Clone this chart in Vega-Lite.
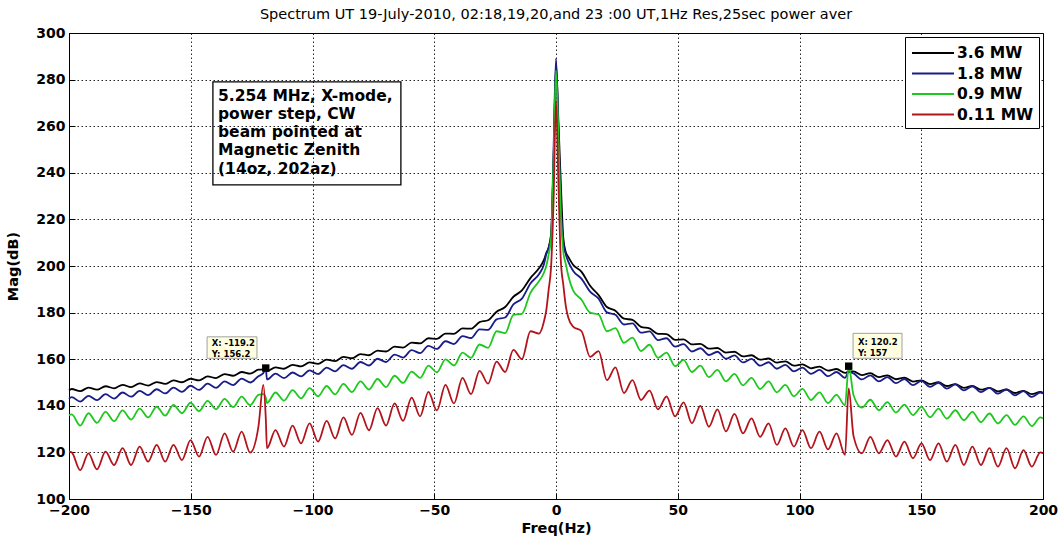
{
  "$schema": "https://vega.github.io/schema/vega-lite/v6.json",
  "width": 974,
  "height": 466,
  "autosize": {"type": "none"},
  "padding": {"left": 69, "top": 33, "right": 19, "bottom": 40},
  "background": "white",
  "config": {
    "font": "DejaVu Sans",
    "view": {"stroke": "black", "strokeWidth": 1},
    "axis": {
      "grid": true,
      "gridColor": "black",
      "gridDash": [1.5, 2.5],
      "gridOpacity": 0.85,
      "gridWidth": 1,
      "domainColor": "black",
      "tickColor": "black",
      "tickSize": -6,
      "labelFont": "DejaVu Sans",
      "labelFontSize": 14,
      "labelFontWeight": "bold",
      "labelColor": "black",
      "labelOverlap": false,
      "labelFlush": false,
      "labelBound": false,
      "titleFont": "DejaVu Sans",
      "titleFontSize": 14.5,
      "titleFontWeight": "bold",
      "titleColor": "black"
    }
  },
  "title": {
    "text": "Spectrum UT 19-July-2010, 02:18,19,20,and 23 :00 UT,1Hz Res,25sec power aver",
    "font": "DejaVu Sans",
    "fontSize": 14.5,
    "fontWeight": "normal",
    "color": "black",
    "anchor": "middle",
    "baseline": "alphabetic",
    "offset": -7
  },
  "layer": [
    {
      "data": {"values": [{}]},
      "mark": {"type": "rect", "fill": "white", "fillOpacity": 0, "stroke": "black", "strokeWidth": 1.3},
      "encoding": {
        "x": {"datum": -140.9, "type": "quantitative"},
        "x2": {"datum": -63.7},
        "y": {"datum": 279, "type": "quantitative"},
        "y2": {"datum": 234.8}
      }
    },
    {
      "data": {"values": [
        {"f": -200, "k": 146.6, "b": 143.0, "g": 136.0, "r": 120.3},
        {"f": -198.9, "k": 147.2, "b": 143.7, "g": 136.3, "r": 120.0},
        {"f": -195.4, "k": 146.3, "b": 141.8, "g": 131.5, "r": 112.4},
        {"f": -192.0, "k": 147.8, "b": 144.3, "g": 136.8, "r": 119.6},
        {"f": -188.5, "k": 146.9, "b": 142.4, "g": 132.7, "r": 112.7},
        {"f": -185.0, "k": 148.4, "b": 145.0, "g": 137.4, "r": 120.3},
        {"f": -181.5, "k": 147.5, "b": 143.1, "g": 133.4, "r": 114.6},
        {"f": -178.0, "k": 149.0, "b": 145.7, "g": 138.0, "r": 121.8},
        {"f": -174.5, "k": 148.0, "b": 143.9, "g": 134.1, "r": 114.6},
        {"f": -171.0, "k": 149.6, "b": 146.4, "g": 138.8, "r": 122.5},
        {"f": -167.5, "k": 148.7, "b": 144.6, "g": 135.0, "r": 116.0},
        {"f": -164.0, "k": 150.2, "b": 147.1, "g": 139.6, "r": 123.2},
        {"f": -160.5, "k": 149.4, "b": 145.3, "g": 135.8, "r": 116.0},
        {"f": -157.1, "k": 150.9, "b": 147.8, "g": 140.4, "r": 123.2},
        {"f": -153.6, "k": 150.1, "b": 146.0, "g": 136.8, "r": 116.7},
        {"f": -150.1, "k": 151.6, "b": 148.6, "g": 141.3, "r": 125.3},
        {"f": -146.6, "k": 150.9, "b": 146.8, "g": 137.7, "r": 118.2},
        {"f": -143.1, "k": 152.6, "b": 149.5, "g": 142.1, "r": 126.7},
        {"f": -139.6, "k": 151.9, "b": 147.7, "g": 138.5, "r": 118.9},
        {"f": -136.1, "k": 153.6, "b": 150.5, "g": 143.0, "r": 128.2},
        {"f": -132.6, "k": 152.9, "b": 148.9, "g": 139.4, "r": 120.3},
        {"f": -129.1, "k": 154.5, "b": 151.7, "g": 143.9, "r": 128.9},
        {"f": -125.6, "k": 153.8, "b": 150.0, "g": 140.3, "r": 119.9},
        {"f": -122.2, "k": 155.5, "b": 152.7, "g": 144.7, "r": 131.1},
        {"f": -120.2, "k": 155.6, "b": 154.0, "g": 145.0, "r": 149.0},
        {"f": -119.2, "k": 156.0, "b": 156.2, "g": 143.5, "r": 135.0},
        {"f": -118.7, "k": 154.8, "b": 151.3, "g": 141.2, "r": 121.8},
        {"f": -115.2, "k": 156.5, "b": 153.8, "g": 145.7, "r": 129.6},
        {"f": -111.7, "k": 155.9, "b": 151.9, "g": 142.2, "r": 122.5},
        {"f": -108.2, "k": 157.6, "b": 154.3, "g": 146.7, "r": 131.5},
        {"f": -104.7, "k": 156.9, "b": 152.6, "g": 143.2, "r": 123.9},
        {"f": -101.2, "k": 158.6, "b": 155.2, "g": 147.6, "r": 132.5},
        {"f": -97.7, "k": 158.0, "b": 153.6, "g": 144.1, "r": 124.6},
        {"f": -94.2, "k": 159.8, "b": 156.4, "g": 148.5, "r": 133.5},
        {"f": -90.7, "k": 159.2, "b": 154.8, "g": 144.9, "r": 126.0},
        {"f": -87.3, "k": 161.0, "b": 157.5, "g": 149.4, "r": 135.0},
        {"f": -83.8, "k": 160.4, "b": 155.9, "g": 145.9, "r": 127.5},
        {"f": -80.3, "k": 162.2, "b": 158.8, "g": 150.5, "r": 137.0},
        {"f": -76.8, "k": 161.7, "b": 157.3, "g": 147.0, "r": 129.5},
        {"f": -73.3, "k": 163.7, "b": 160.2, "g": 151.5, "r": 139.0},
        {"f": -69.8, "k": 163.3, "b": 158.8, "g": 148.0, "r": 131.5},
        {"f": -66.3, "k": 165.4, "b": 162.0, "g": 152.9, "r": 141.0},
        {"f": -62.8, "k": 165.0, "b": 160.7, "g": 149.8, "r": 133.5},
        {"f": -59.3, "k": 167.1, "b": 163.9, "g": 154.7, "r": 143.5},
        {"f": -55.8, "k": 166.8, "b": 162.6, "g": 152.0, "r": 135.5},
        {"f": -52.4, "k": 169.0, "b": 165.7, "g": 157.2, "r": 146.0},
        {"f": -48.9, "k": 168.7, "b": 164.4, "g": 154.4, "r": 138.0},
        {"f": -45.4, "k": 171.0, "b": 167.7, "g": 159.9, "r": 149.0},
        {"f": -41.9, "k": 170.9, "b": 166.5, "g": 157.3, "r": 141.0},
        {"f": -38.4, "k": 173.2, "b": 169.9, "g": 162.8, "r": 152.0},
        {"f": -34.9, "k": 173.1, "b": 169.1, "g": 160.6, "r": 145.0},
        {"f": -31.4, "k": 175.9, "b": 172.8, "g": 166.3, "r": 155.0},
        {"f": -27.9, "k": 176.7, "b": 172.6, "g": 164.9, "r": 149.5},
        {"f": -24.4, "k": 180.4, "b": 177.1, "g": 172.0, "r": 159.0},
        {"f": -20.9, "k": 182.4, "b": 177.9, "g": 171.2, "r": 154.5},
        {"f": -17.5, "k": 186.8, "b": 183.5, "g": 179.0, "r": 164.0},
        {"f": -14.0, "k": 189.5, "b": 186.0, "g": 179.5, "r": 160.0},
        {"f": -10.5, "k": 194.8, "b": 192.5, "g": 188.5, "r": 172.0},
        {"f": -7.0, "k": 199.0, "b": 196.5, "g": 193.5, "r": 171.0},
        {"f": -5, "k": 202.5, "b": 200.5, "g": 197.0, "r": 176.0},
        {"f": -4, "k": 205.5, "b": 205.0, "g": 200.0, "r": 181.0},
        {"f": -3, "k": 208.0, "b": 208.0, "g": 205.0, "r": 190.0},
        {"f": -2, "k": 214.0, "b": 213.0, "g": 212.0, "r": 200.0},
        {"f": -1, "k": 245.0, "b": 250.0, "g": 245.0, "r": 228.0},
        {"f": 0, "k": 287.0, "b": 289.0, "g": 284.0, "r": 271.0},
        {"f": 1, "k": 262.0, "b": 258.0, "g": 255.0, "r": 235.0},
        {"f": 2, "k": 235.0, "b": 225.0, "g": 222.0, "r": 202.0},
        {"f": 3, "k": 212.0, "b": 210.0, "g": 206.0, "r": 192.0},
        {"f": 4, "k": 206.0, "b": 205.0, "g": 201.0, "r": 183.0},
        {"f": 5, "k": 204.0, "b": 202.0, "g": 196.0, "r": 178.0},
        {"f": 7.0, "k": 200.5, "b": 198.0, "g": 189.5, "r": 174.0},
        {"f": 10.5, "k": 197.5, "b": 194.5, "g": 185.5, "r": 172.0},
        {"f": 14.0, "k": 191.5, "b": 189.0, "g": 180.0, "r": 161.0},
        {"f": 17.5, "k": 187.5, "b": 186.0, "g": 179.2, "r": 163.5},
        {"f": 20.9, "k": 182.4, "b": 180.1, "g": 172.0, "r": 151.0},
        {"f": 24.4, "k": 180.8, "b": 179.1, "g": 173.3, "r": 156.5},
        {"f": 27.9, "k": 177.4, "b": 174.9, "g": 167.0, "r": 145.5},
        {"f": 31.4, "k": 176.9, "b": 175.4, "g": 169.3, "r": 151.0},
        {"f": 34.9, "k": 173.9, "b": 171.4, "g": 163.5, "r": 142.5},
        {"f": 38.4, "k": 173.2, "b": 171.9, "g": 166.2, "r": 146.5},
        {"f": 41.9, "k": 170.9, "b": 168.2, "g": 160.6, "r": 138.5},
        {"f": 45.4, "k": 170.8, "b": 169.0, "g": 162.8, "r": 144.0},
        {"f": 48.9, "k": 168.3, "b": 165.4, "g": 157.0, "r": 135.5},
        {"f": 52.4, "k": 168.5, "b": 166.5, "g": 159.7, "r": 141.5},
        {"f": 55.8, "k": 166.4, "b": 163.3, "g": 154.5, "r": 132.5},
        {"f": 59.3, "k": 166.6, "b": 164.7, "g": 157.2, "r": 140.0},
        {"f": 62.8, "k": 164.5, "b": 161.8, "g": 152.3, "r": 131.0},
        {"f": 66.3, "k": 164.8, "b": 163.2, "g": 155.4, "r": 138.5},
        {"f": 69.8, "k": 162.8, "b": 160.2, "g": 150.5, "r": 129.0},
        {"f": 73.3, "k": 163.2, "b": 161.6, "g": 153.7, "r": 136.5},
        {"f": 76.8, "k": 161.2, "b": 158.6, "g": 148.8, "r": 128.2},
        {"f": 80.3, "k": 161.7, "b": 160.1, "g": 152.0, "r": 134.6},
        {"f": 83.8, "k": 159.8, "b": 157.2, "g": 147.2, "r": 126.7},
        {"f": 87.3, "k": 160.3, "b": 158.7, "g": 150.5, "r": 132.5},
        {"f": 90.7, "k": 158.5, "b": 155.9, "g": 145.8, "r": 123.2},
        {"f": 94.2, "k": 159.1, "b": 157.6, "g": 149.0, "r": 130.3},
        {"f": 97.7, "k": 157.2, "b": 154.8, "g": 144.1, "r": 122.5},
        {"f": 101.2, "k": 157.8, "b": 156.4, "g": 147.3, "r": 129.6},
        {"f": 104.7, "k": 156.1, "b": 153.7, "g": 142.5, "r": 121.8},
        {"f": 108.2, "k": 156.8, "b": 155.4, "g": 145.8, "r": 128.9},
        {"f": 111.7, "k": 155.1, "b": 152.7, "g": 141.2, "r": 121.3},
        {"f": 115.2, "k": 155.8, "b": 154.5, "g": 144.7, "r": 128.2},
        {"f": 118.7, "k": 154.1, "b": 152.0, "g": 140.2, "r": 118.9},
        {"f": 120.2, "k": 154.8, "b": 154.5, "g": 157.0, "r": 147.5},
        {"f": 122.2, "k": 154.8, "b": 153.9, "g": 144.5, "r": 127.0},
        {"f": 125.6, "k": 153.2, "b": 151.3, "g": 139.2, "r": 119.6},
        {"f": 129.1, "k": 154.0, "b": 153.1, "g": 142.6, "r": 126.7},
        {"f": 132.6, "k": 152.3, "b": 150.5, "g": 138.1, "r": 119.6},
        {"f": 136.1, "k": 153.1, "b": 152.3, "g": 141.6, "r": 125.3},
        {"f": 139.6, "k": 151.4, "b": 149.7, "g": 137.1, "r": 118.2},
        {"f": 143.1, "k": 152.1, "b": 151.5, "g": 140.5, "r": 124.6},
        {"f": 146.6, "k": 150.4, "b": 148.9, "g": 136.0, "r": 117.5},
        {"f": 150.1, "k": 150.9, "b": 150.7, "g": 139.5, "r": 123.9},
        {"f": 153.6, "k": 149.3, "b": 148.1, "g": 135.1, "r": 116.7},
        {"f": 157.1, "k": 150.1, "b": 149.9, "g": 138.8, "r": 123.9},
        {"f": 160.5, "k": 148.5, "b": 147.4, "g": 134.5, "r": 116.0},
        {"f": 164.0, "k": 149.3, "b": 149.2, "g": 138.1, "r": 123.2},
        {"f": 167.5, "k": 147.7, "b": 146.6, "g": 133.8, "r": 114.6},
        {"f": 171.0, "k": 148.5, "b": 148.4, "g": 137.4, "r": 122.5},
        {"f": 174.5, "k": 146.9, "b": 145.9, "g": 133.0, "r": 114.6},
        {"f": 178.0, "k": 147.7, "b": 147.7, "g": 136.7, "r": 121.8},
        {"f": 181.5, "k": 146.2, "b": 145.2, "g": 132.4, "r": 113.9},
        {"f": 185.0, "k": 147.0, "b": 147.0, "g": 136.0, "r": 121.8},
        {"f": 188.5, "k": 145.5, "b": 144.5, "g": 131.8, "r": 113.2},
        {"f": 192.0, "k": 146.4, "b": 146.3, "g": 135.5, "r": 121.0},
        {"f": 195.4, "k": 145.0, "b": 143.8, "g": 131.3, "r": 113.9},
        {"f": 198.9, "k": 146.0, "b": 145.7, "g": 135.0, "r": 120.0},
        {"f": 200, "k": 145.6, "b": 145.3, "g": 134.5, "r": 119.6}
      ]},
      "transform": [{"fold": ["k", "b", "g", "r"], "as": ["s", "v"]}],
      "mark": {"type": "line", "interpolate": "monotone"},
      "encoding": {
        "x": {
          "field": "f", "type": "quantitative",
          "scale": {"domain": [-200, 200], "nice": false, "zero": false},
          "axis": {"values": [-200, -150, -100, -50, 0, 50, 100, 150, 200], "labelPadding": 10, "titlePadding": 4},
          "title": "Freq(Hz)"
        },
        "y": {
          "field": "v", "type": "quantitative",
          "scale": {"domain": [100, 300], "nice": false, "zero": false},
          "axis": {"values": [100, 120, 140, 160, 180, 200, 220, 240, 260, 280, 300], "labelPadding": 10, "titlePadding": 15},
          "title": "Mag(dB)"
        },
        "color": {
          "field": "s", "type": "nominal",
          "scale": {"domain": ["k", "b", "g", "r"], "range": ["#000000", "#1a1d88", "#1ec81e", "#b3141c"]},
          "legend": {
            "orient": "top-right",
            "offset": 4,
            "title": null,
            "labelExpr": "{'k':'3.6 MW','b':'1.8 MW','g':'0.9 MW','r':'0.11 MW'}[datum.value]",
            "symbolType": "M-0.9,0H3.3",
            "symbolSize": 400,
            "symbolStrokeWidth": 2,
            "labelFont": "DejaVu Sans",
            "labelFontSize": 15.5,
            "labelFontWeight": "bold",
            "labelColor": "black",
            "labelOffset": 25,
            "strokeColor": "black",
            "fillColor": "white",
            "padding": 5,
            "rowPadding": 0.5,
            "cornerRadius": 0
          }
        },
        "strokeWidth": {
          "field": "s", "type": "nominal",
          "scale": {"domain": ["k", "b", "g", "r"], "range": [1.8, 1.8, 3, 2.8]},
          "legend": null
        }
      }
    },
    {
      "data": {"values": [{"tx": -119.2, "ty": 156.2}, {"tx": 120.2, "ty": 157}]},
      "mark": {"type": "point", "shape": "square", "filled": true, "color": "black", "size": 55, "opacity": 1},
      "encoding": {
        "x": {"field": "tx", "type": "quantitative"},
        "y": {"field": "ty", "type": "quantitative"}
      }
    },
    {
      "data": {"values": [{}]},
      "mark": {"type": "rect", "fill": "#ffffe0", "stroke": "#a0a0a0", "strokeWidth": 1},
      "encoding": {
        "x": {"datum": -143.3, "type": "quantitative"},
        "x2": {"datum": -122.8},
        "y": {"datum": 169.6, "type": "quantitative"},
        "y2": {"datum": 160.4}
      }
    },
    {
      "data": {"values": [{}]},
      "mark": {"type": "rect", "fill": "#ffffe0", "stroke": "#a0a0a0", "strokeWidth": 1},
      "encoding": {
        "x": {"datum": 122.0, "type": "quantitative"},
        "x2": {"datum": 142.1},
        "y": {"datum": 171.1, "type": "quantitative"},
        "y2": {"datum": 160.4}
      }
    },
    {
      "data": {"values": [{}]},
      "mark": {"type": "text", "align": "left", "baseline": "alphabetic", "font": "DejaVu Sans", "fontSize": 8.5, "fontWeight": "bold", "color": "black", "lineHeight": 10.7, "text": ["X: -119.2", "Y: 156.2"]},
      "encoding": {
        "x": {"datum": -141.4, "type": "quantitative"},
        "y": {"datum": 165.5, "type": "quantitative"}
      }
    },
    {
      "data": {"values": [{}]},
      "mark": {"type": "text", "align": "left", "baseline": "alphabetic", "font": "DejaVu Sans", "fontSize": 8.5, "fontWeight": "bold", "color": "black", "lineHeight": 11, "text": ["X: 120.2", "Y: 157"]},
      "encoding": {
        "x": {"datum": 124.0, "type": "quantitative"},
        "y": {"datum": 166.2, "type": "quantitative"}
      }
    },
    {
      "data": {"values": [{}]},
      "mark": {"type": "text", "align": "left", "baseline": "alphabetic", "font": "DejaVu Sans", "fontSize": 15.5, "fontWeight": "bold", "color": "black", "lineHeight": 18.3, "text": ["5.254 MHz, X-mode,", "power step, CW", "beam pointed at", "Magnetic Zenith", "(14oz, 202az)"]},
      "encoding": {
        "x": {"datum": -138.8, "type": "quantitative"},
        "y": {"datum": 271.0, "type": "quantitative"}
      }
    }
  ]
}
